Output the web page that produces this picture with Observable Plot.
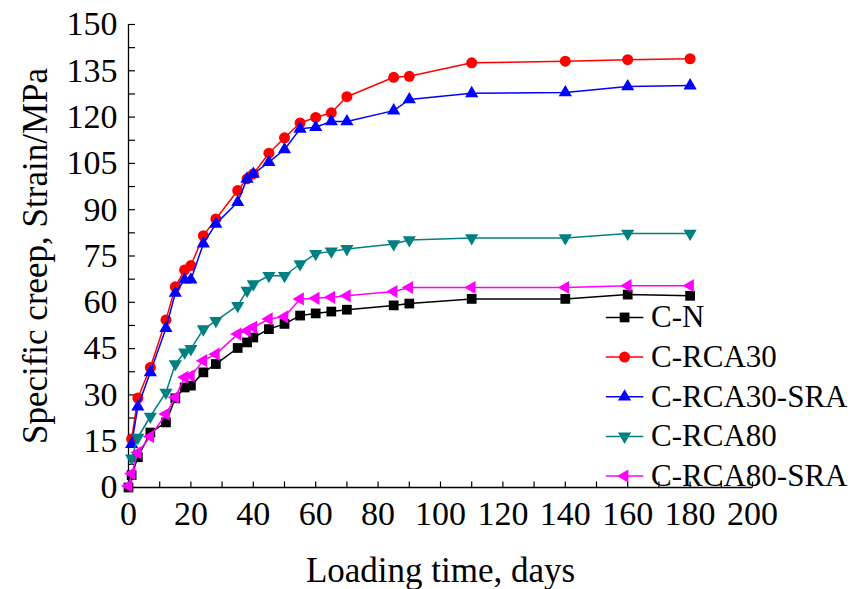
<!DOCTYPE html>
<html><head><meta charset="utf-8">
<script src="https://cdn.jsdelivr.net/npm/d3@7"></script>
<script src="https://cdn.jsdelivr.net/npm/@observablehq/plot@0.6"></script>
<style>body{margin:0;background:#fff}</style>
</head><body><div id="chart"></div>
<script>
// ---- data ----
const seriesNames = ["C-N", "C-RCA30", "C-RCA30-SRA", "C-RCA80", "C-RCA80-SRA"];
const seriesColors = ["#000000", "#ff0000", "#0000ff", "#008080", "#ff00ff"];
const daysWithZero = [0, 1, 3, 7, 12, 15, 18, 20, 24, 28, 35, 38, 40, 45, 50, 55, 60, 65, 70, 85, 90, 110, 140, 160, 180];
const days = [1, 3, 7, 12, 15, 18, 20, 24, 28, 35, 38, 40, 45, 50, 55, 60, 65, 70, 85, 90, 110, 140, 160, 180];
const cN =       [0, 4, 9.8, 17.8, 21.1, 28.9, 32.4, 33, 37.3, 40, 45.2, 47, 48.6, 51.3, 53, 55.7, 56.4, 57, 57.6, 59, 59.6, 61.1, 61.1, 62.5, 62.1];
const cRCA30 =   [15.7, 29, 38.9, 54.3, 65, 70.5, 71.9, 81.6, 87, 96.2, 100, 101.6, 108.3, 113.3, 118.1, 119.9, 121.4, 126.6, 132.9, 133.2, 137.6, 138.1, 138.6, 138.9];
const cRCA30S =  [14, 26.2, 37.3, 51.6, 63, 67.3, 67.3, 79, 85.4, 92.4, 100, 101.6, 105.4, 109.5, 116.2, 116.7, 118.6, 118.6, 122.1, 125.7, 127.7, 128, 129.9, 130.2];
const cRCA80 =   [9.5, 16.2, 23, 30.8, 40, 43.8, 44.9, 51.3, 54, 58.9, 63.8, 65.9, 68.6, 68.6, 72.4, 75.7, 76.5, 77.3, 78.9, 80.2, 80.8, 80.8, 82.3, 82.3];
const cRCA80S =  [0.5, 4.5, 11.3, 16.5, 23.8, 29.2, 35.7, 36.2, 41.1, 43.2, 49.7, 50.8, 51.9, 54.6, 55.3, 61.1, 61.3, 61.6, 62.1, 63.5, 64.8, 64.8, 64.8, 65.4, 65.4];
const xTicks = [0, 20, 40, 60, 80, 100, 120, 140, 160, 180, 200];
const xMinor = d3.range(0, 201, 10);
const yTicks = [0, 15, 30, 45, 60, 75, 90, 105, 120, 135, 150];
const yMinor = d3.range(0, 150.1, 7.5);
const xTitle = "Loading time, days";
const yTitle = "Specific creep, Strain/MPa";

// ---- symbols ----
const triUp = {draw(c){c.moveTo(0,-7.5);c.lineTo(6.6,3.8);c.lineTo(-6.6,3.8);c.closePath();}};
const triDown = {draw(c){c.moveTo(0,7.5);c.lineTo(6.6,-3.8);c.lineTo(-6.6,-3.8);c.closePath();}};
const triLeft = {draw(c){c.moveTo(-7.5,0);c.lineTo(3.8,-6.6);c.lineTo(3.8,6.6);c.closePath();}};
const tickUp = {draw(c){c.moveTo(0,0);c.lineTo(0,-6);}};
const tickRight = {draw(c){c.moveTo(0,0);c.lineTo(6.5,0);}};
const symbols = ["square", "circle", triUp, triDown, triLeft];

const seriesValues = [cN, cRCA30, cRCA30S, cRCA80, cRCA80S];
const seriesDays = [daysWithZero, days, days, days, daysWithZero];
const data = seriesNames.map((name, i) => seriesValues[i].map((v, j) => ({name, day: seriesDays[i][j], value: v})));

// legend layout (in data units of the chart)
const legendY0 = 55.1, legendStep = 12.85;
const legendRows = seriesNames.map((name, i) => ({name, y: legendY0 - i * legendStep}));

const marks = [];
// axes lines
marks.push(Plot.ruleX([0], {strokeWidth: 1.3}));
marks.push(Plot.ruleY([0], {strokeWidth: 1.3}));
// tick marks (inward)
marks.push(Plot.dot(xMinor, {x: d => d, y: () => 0, symbol: tickUp, stroke: "black", fill: "none", strokeWidth: 1.2}));
marks.push(Plot.dot(yMinor, {x: () => 0, y: d => d, symbol: tickRight, stroke: "black", fill: "none", strokeWidth: 1.2}));
// tick labels
marks.push(Plot.axisX(xTicks, {tickSize: 0, tickPadding: 13, fontSize: 34, label: null}));
marks.push(Plot.axisY(yTicks, {tickSize: 0, tickPadding: 11, fontSize: 34, label: null}));
// titles
marks.push(Plot.text([xTitle], {frameAnchor: "bottom", dy: 83, fontSize: 35, textAnchor: "middle", lineAnchor: "middle", text: d => d}));
marks.push(Plot.text([yTitle], {frameAnchor: "left", dx: -93, rotate: -90, fontSize: 35, textAnchor: "middle", lineAnchor: "middle", text: d => d}));

seriesNames.forEach((name, i) => {
  marks.push(Plot.line(data[i], {x: "day", y: "value", stroke: seriesColors[i], strokeWidth: 1.5}));
  marks.push(Plot.dot(data[i], {x: "day", y: "value", symbol: symbols[i], r: 5.5, fill: seriesColors[i], stroke: "none"}));
  const row = [legendRows[i]];
  marks.push(Plot.link(row, {x1: () => 153, x2: () => 165, y1: "y", y2: "y", stroke: seriesColors[i], strokeWidth: 1.5}));
  marks.push(Plot.dot(row, {x: () => 159, y: "y", symbol: symbols[i], r: 5.5, fill: seriesColors[i], stroke: "none"}));
  marks.push(Plot.text(row, {x: () => 167.5, y: "y", text: "name", textAnchor: "start", fontSize: 31, fill: "black"}));
});

const chart = Plot.plot({
  width: 855, height: 589,
  marginLeft: 128, marginRight: 103, marginTop: 24, marginBottom: 102,
  x: {domain: [0, 200], axis: null},
  y: {domain: [0, 150], axis: null},
  style: {fontFamily: "'Liberation Serif', 'Times New Roman', serif", fontSize: "34px", background: "white", color: "black", overflow: "visible"},
  marks
});
document.getElementById("chart").appendChild(chart);
</script>
</body></html>
